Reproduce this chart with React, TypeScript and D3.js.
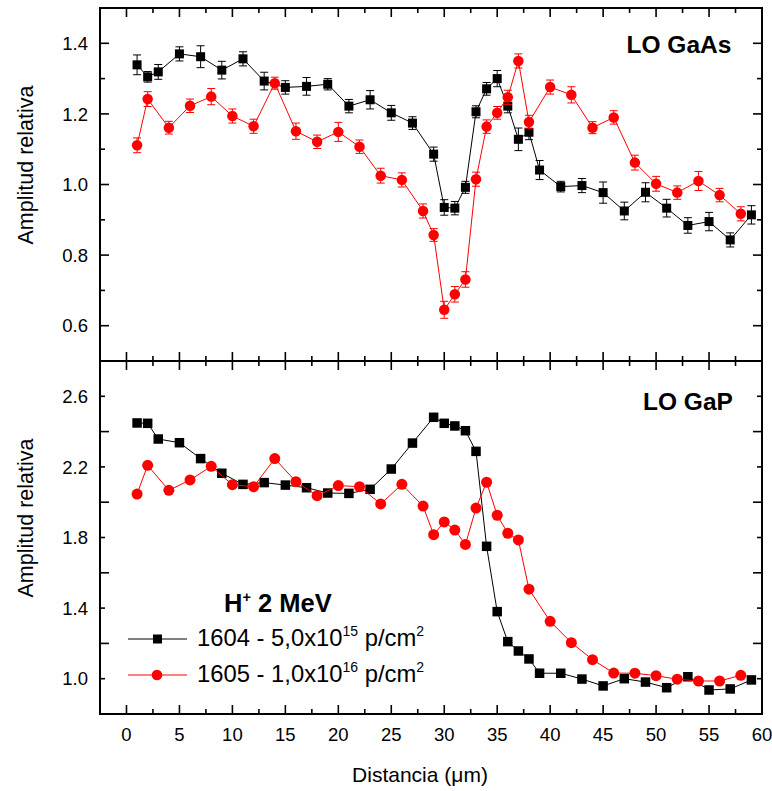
import React from "react";
import * as d3 from "d3";

// ---------- DATA ----------
const blackX = [1, 2, 3, 5, 7, 9, 11, 13, 15, 17, 19, 21, 23, 25, 27, 29, 30, 31, 32, 33, 34, 35, 36, 37, 38, 39, 41, 43, 45, 47, 49, 51, 53, 55, 57, 59];
const redX = [1, 2, 4, 6, 8, 10, 12, 14, 16, 18, 20, 22, 24, 26, 28, 29, 30, 31, 32, 33, 34, 35, 36, 37, 38, 40, 42, 44, 46, 48, 50, 52, 54, 56, 58];

const gaasBlack = [1.339, 1.305, 1.319, 1.37, 1.362, 1.324, 1.356, 1.293, 1.275, 1.278, 1.284, 1.222, 1.24, 1.203, 1.174, 1.086, 0.935, 0.933, 0.992, 1.206, 1.271, 1.3, 1.222, 1.128, 1.148, 1.041, 0.994, 0.997, 0.977, 0.925, 0.978, 0.933, 0.884, 0.895, 0.843, 0.914];
const gaasBlackErr = [0.028, 0.015, 0.021, 0.02, 0.031, 0.025, 0.02, 0.025, 0.019, 0.025, 0.016, 0.019, 0.026, 0.021, 0.018, 0.02, 0.022, 0.019, 0.017, 0.017, 0.018, 0.023, 0.019, 0.032, 0.021, 0.027, 0.015, 0.02, 0.03, 0.025, 0.027, 0.025, 0.022, 0.026, 0.02, 0.026];
const gaasRed = [1.111, 1.242, 1.161, 1.223, 1.249, 1.194, 1.165, 1.287, 1.151, 1.121, 1.149, 1.107, 1.025, 1.013, 0.925, 0.857, 0.645, 0.689, 0.731, 1.015, 1.164, 1.203, 1.247, 1.35, 1.177, 1.276, 1.254, 1.161, 1.19, 1.062, 1.002, 0.977, 1.01, 0.97, 0.917];
const gaasRedErr = [0.021, 0.021, 0.018, 0.019, 0.023, 0.02, 0.02, 0.017, 0.023, 0.019, 0.027, 0.019, 0.021, 0.02, 0.02, 0.018, 0.024, 0.022, 0.022, 0.02, 0.019, 0.018, 0.02, 0.02, 0.019, 0.02, 0.023, 0.017, 0.019, 0.021, 0.021, 0.019, 0.027, 0.019, 0.02];

const gapBlack = [2.449, 2.447, 2.358, 2.337, 2.247, 2.164, 2.101, 2.111, 2.097, 2.082, 2.052, 2.05, 2.073, 2.188, 2.335, 2.481, 2.447, 2.432, 2.405, 2.288, 1.75, 1.38, 1.21, 1.157, 1.112, 1.031, 1.031, 0.998, 0.959, 1.0, 0.981, 0.949, 1.011, 0.936, 0.942, 0.993];
const gapRed = [2.046, 2.209, 2.067, 2.126, 2.203, 2.099, 2.088, 2.247, 2.116, 2.037, 2.094, 2.088, 1.99, 2.101, 1.978, 1.816, 1.888, 1.842, 1.761, 1.967, 2.113, 1.926, 1.824, 1.786, 1.507, 1.325, 1.204, 1.108, 1.032, 1.031, 1.017, 0.997, 0.987, 0.987, 1.019];

const xTickLabels = [0, 5, 10, 15, 20, 25, 30, 35, 40, 45, 50, 55, 60];
const topTickLabels = [0.6, 0.8, 1.0, 1.2, 1.4];
const botTickLabels = [1.0, 1.4, 1.8, 2.2, 2.6];

// ---------- LAYOUT ----------
const W = 772;
const H = 791;
const L = 100, R = 762, T = 8, M = 361, B = 714;
const FONT = "'Liberation Sans', Arial, Helvetica, sans-serif";
const RED = "#ff0000";

const x = d3.scaleLinear().domain([-2.5, 60]).range([L, R]);
const yTop = d3.scaleLinear().domain([0.5, 1.5]).range([M, T]);
const yBot = d3.scaleLinear().domain([0.8, 2.8]).range([B, M]);

const fmt = d3.format(".1f");

function Panel({ y, top, bottom, majorStep, minorStep, labels }: any) {
  const xt = d3.range(0, 60.001, 2.5);
  const [d0, d1] = y.domain();
  const yt = d3.range(d0, d1 + 1e-6, minorStep);
  const isMajY = (v: number) => Math.abs(v / majorStep - Math.round(v / majorStep)) < 1e-6;
  return (
    <g>
      {xt.map((v, i) => {
        const maj = Math.abs(v % 5) < 1e-6;
        const len = maj ? 9 : 5;
        return (
          <g key={"xt" + i}>
            <line x1={x(v)} x2={x(v)} y1={top} y2={top + len} stroke="#000" strokeWidth={1.6} />
            <line x1={x(v)} x2={x(v)} y1={bottom} y2={bottom - len} stroke="#000" strokeWidth={1.6} />
          </g>
        );
      })}
      {yt.map((v, i) => {
        const maj = isMajY(v);
        const len = maj ? 9 : 5;
        const yy = y(v);
        if (yy < top + 1 || yy > bottom - 1) return null;
        return (
          <g key={"yt" + i}>
            <line x1={L} x2={L + len} y1={yy} y2={yy} stroke="#000" strokeWidth={1.6} />
            <line x1={R} x2={R - len} y1={yy} y2={yy} stroke="#000" strokeWidth={1.6} />
          </g>
        );
      })}
      {labels.map((v: number, i: number) => (
        <text key={"yl" + i} x={88} y={y(v)} dy="0.36em" textAnchor="end" fontSize={18.5} fontFamily={FONT} fill="#000">
          {fmt(v)}
        </text>
      ))}
      <rect x={L} y={top} width={R - L} height={bottom - top} fill="none" stroke="#000" strokeWidth={2} />
    </g>
  );
}

function Series({ xs, ys, errs, y, color, marker, size }: any) {
  const pts = xs.map((xv: number, i: number) => [x(xv), y(ys[i])]);
  const line = d3.line()(pts as any) || "";
  return (
    <g>
      <path d={line} fill="none" stroke={color} strokeWidth={1} />
      {errs &&
        xs.map((xv: number, i: number) => {
          const cx = x(xv);
          const y1 = y(ys[i] + errs[i]);
          const y2 = y(ys[i] - errs[i]);
          return (
            <g key={"e" + i} stroke={color} strokeWidth={1}>
              <line x1={cx} x2={cx} y1={y1} y2={y2} />
              <line x1={cx - 4} x2={cx + 4} y1={y1} y2={y1} />
              <line x1={cx - 4} x2={cx + 4} y1={y2} y2={y2} />
            </g>
          );
        })}
      {pts.map((p: number[], i: number) =>
        marker === "square" ? (
          <rect key={"m" + i} x={p[0] - size / 2} y={p[1] - size / 2} width={size} height={size} fill={color} />
        ) : (
          <circle key={"m" + i} cx={p[0]} cy={p[1]} r={size / 2} fill={color} />
        )
      )}
    </g>
  );
}

export default function App() {
  return (
    <svg width={W} height={H} style={{ position: "absolute", left: 0, top: 0, background: "#fff" }}>
      <rect x={0} y={0} width={W} height={H} fill="#fff" />
      {/* top panel */}
      <Series xs={blackX} ys={gaasBlack} errs={gaasBlackErr} y={yTop} color="#000" marker="square" size={9} />
      <Series xs={redX} ys={gaasRed} errs={gaasRedErr} y={yTop} color={RED} marker="circle" size={10.5} />
      <Panel y={yTop} top={T} bottom={M} majorStep={0.2} minorStep={0.1} labels={topTickLabels} />
      {/* bottom panel */}
      <Series xs={blackX} ys={gapBlack} y={yBot} color="#000" marker="square" size={9.5} />
      <Series xs={redX} ys={gapRed} y={yBot} color={RED} marker="circle" size={11} />
      <Panel y={yBot} top={M} bottom={B} majorStep={0.4} minorStep={0.2} labels={botTickLabels} />

      {/* x tick labels */}
      {xTickLabels.map((v) => (
        <text key={"xl" + v} x={x(v)} y={740.5} textAnchor="middle" fontSize={18.5} fontFamily={FONT} fill="#000">
          {v}
        </text>
      ))}
      <text x={420} y={782} textAnchor="middle" fontSize={21} fontFamily={FONT} fill="#000">
        Distancia (μm)
      </text>

      {/* y titles */}
      <text transform="translate(33,165) rotate(-90)" textAnchor="middle" fontSize={21.5} fontFamily={FONT} fill="#000">
        Amplitud relativa
      </text>
      <text transform="translate(33,518) rotate(-90)" textAnchor="middle" fontSize={21.5} fontFamily={FONT} fill="#000">
        Amplitud relativa
      </text>

      {/* panel labels */}
      <text x={626.5} y={53} fontSize={24.5} fontWeight="bold" fontFamily={FONT} fill="#000">
        LO GaAs
      </text>
      <text x={643} y={410} fontSize={24.5} fontWeight="bold" fontFamily={FONT} fill="#000">
        LO GaP
      </text>

      {/* legend */}
      <text x={224} y={611.5} fontSize={25.5} fontWeight="bold" fontFamily={FONT} fill="#000">
        H<tspan fontSize={14.5} dy={-10}>+</tspan>
        <tspan dy={10}> 2 MeV</tspan>
      </text>
      <line x1={128} x2={187} y1={639} y2={639} stroke="#000" strokeWidth={1} />
      <rect x={157.5 - 4.5} y={639 - 4.5} width={9} height={9} fill="#000" />
      <text x={197} y={645.5} fontSize={23.8} fontFamily={FONT} fill="#000">
        1604 - 5,0x10<tspan fontSize={14} dy={-9.5}>15</tspan>
        <tspan dy={9.5}> p/cm</tspan>
        <tspan fontSize={14} dy={-9.5}>2</tspan>
      </text>
      <line x1={128} x2={187} y1={675} y2={675} stroke={RED} strokeWidth={1} />
      <circle cx={157} cy={675} r={5.3} fill={RED} />
      <text x={197} y={681.5} fontSize={23.8} fontFamily={FONT} fill="#000">
        1605 - 1,0x10<tspan fontSize={14} dy={-9.5}>16</tspan>
        <tspan dy={9.5}> p/cm</tspan>
        <tspan fontSize={14} dy={-9.5}>2</tspan>
      </text>
    </svg>
  );
}
